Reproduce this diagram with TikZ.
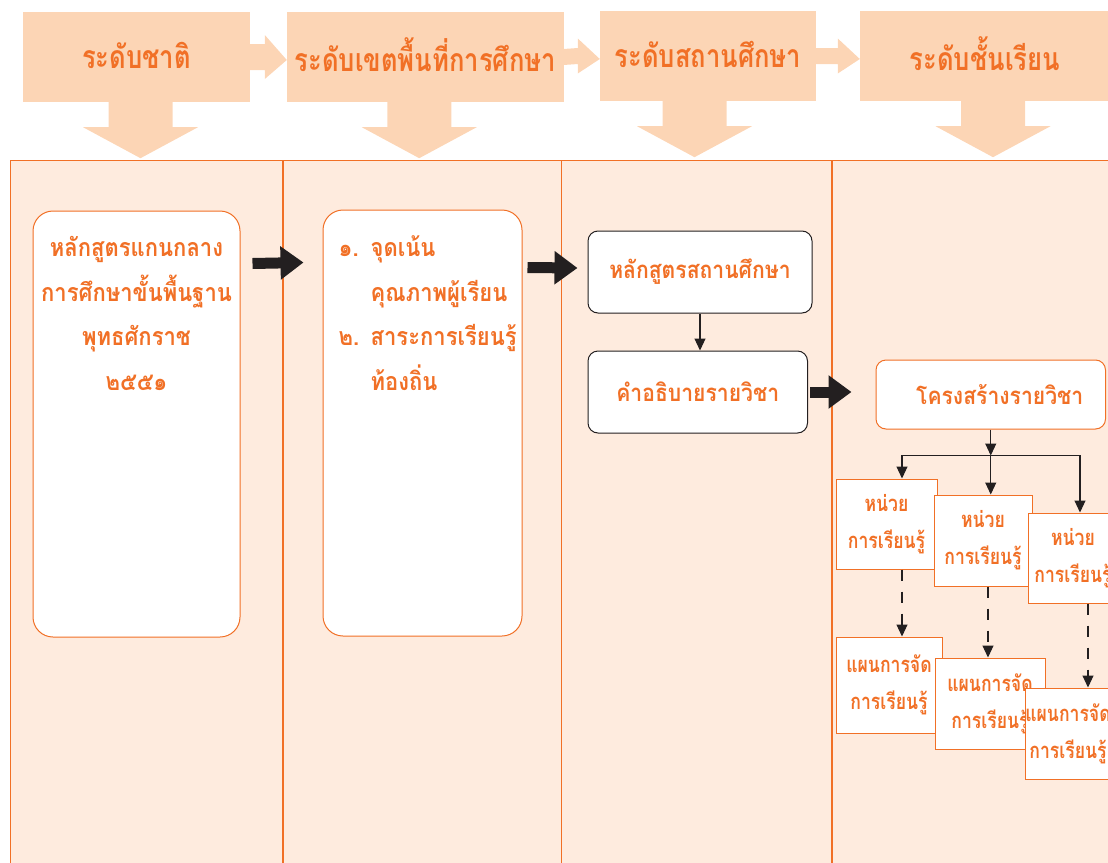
\documentclass[tikz,border=0pt]{standalone}
\usepackage{fontspec}
\newfontfamily\thaihead[Script=Thai,FakeStretch=0.8]{Loma}
\newfontfamily\thaifont[Script=Thai,FakeStretch=0.88]{Loma}
\newfontfamily\thainarrow[Script=Thai,FakeStretch=0.8]{Loma}
\usetikzlibrary{arrows.meta,positioning,calc}
\tikzset{>=Triangle}
\definecolor{headfill}{RGB}{252,213,181}
\definecolor{lanefill}{RGB}{254,235,222}
\definecolor{myorange}{RGB}{241,112,38}
\definecolor{myblack}{RGB}{35,31,32}

\begin{document}
\begin{tikzpicture}[x=1pt, y=1pt, % 1 unidade = 1 pixel, y para baixo negativo
                    line join=miter,
                    head/.style={fill=headfill, minimum height=90, inner sep=0pt, text=myorange,
                                 font=\thaihead\bfseries\fontsize{32}{36}\selectfont},
                    lane/.style={draw=myorange, fill=lanefill, line width=1.2pt},
                    laneline/.style={draw=myorange, line width=1.2pt},
                    bigbox/.style={draw=myorange, fill=white, rounded corners=20, line width=1pt, inner sep=0pt},
                    roundbox/.style={draw=myblack, fill=white, rounded corners=10, line width=1pt, text=myorange,
                                     font=\thaifont\bfseries\fontsize{24}{26}\selectfont},
                    orangebox/.style={roundbox, draw=myorange},
                    smallbox/.style={draw=myorange, fill=white, line width=1pt, inner sep=0pt, align=center,
                                     text=myorange, font=\thainarrow\bfseries\fontsize{22}{37}\selectfont},
                    bodytext/.style={text=myorange, inner sep=0pt, font=\thaifont\bfseries\fontsize{25}{44.5}\selectfont},
                    fatarrow/.style={myblack, line width=11pt, -{Triangle[length=23pt,width=32pt]}},
                    thinarrow/.style={myblack, line width=1.1pt, -{Triangle[length=12pt,width=11pt]}},
                    dasharrow/.style={thinarrow, dash pattern=on 11pt off 11pt}]
  \useasboundingbox (0,0) rectangle (1108,-862);
  \clip (0,0) rectangle (1108,-862);

% Cabeçalhos dos níveis
  \node[head, minimum width=227]   (nat)    at (136.5,-57) {\raisebox{4pt}{ระดับชาติ}};
  \node[head, minimum width=276.5] (area)   at (425.25,-57) {\raisebox{4pt}{ระดับเขตพื้นที่การศึกษา}};
  \node[head, minimum width=216]   (school) at (708,-56) {\raisebox{4pt}{ระดับสถานศึกษา}};
  \node[head, minimum width=250]   (class)  at (985,-56) {\raisebox{4pt}{ระดับชั้นเรียน}};

% Setas largas entre os cabeçalhos
  \foreach \a/\b/\s/\w in {nat/area/13/22, area/school/8/17.5, school/class/8/17.5}{
    \fill[headfill] ([yshift=\s]\a.east) -- ([shift={(-22,\s)}]\b.west) -- ([shift={(-22,\w)}]\b.west)
      -- ([yshift=-3]\b.west) -- ([shift={(-22,-\w)}]\b.west) -- ([shift={(-22,-\s)}]\b.west)
      -- ([yshift=-\s]\a.east) -- cycle;
  }

% Faixas (colunas) de fundo
  \draw[lane] (10.5,-160.5) rectangle (1130,-880);
  \foreach \x in {283,561.5,832}
    \draw[laneline] (\x,-160.5) -- (\x,-880);

% Setas para baixo dos cabeçalhos
  \foreach \h/\dx in {nat/4, area/-6, school/-13.5, class/8}{
    \fill[headfill] ([xshift=\dx]\h.south) ++(-32,1) -- ++(0,-26) -- ++(-25.5,0) -- ++(57.5,-31)
      -- ++(57.5,31) -- ++(-25.5,0) -- ++(0,26) -- cycle;
  }

% Nível nacional e de área
  \node[bigbox, minimum width=207, minimum height=426] (core)  at (136.5,-424) {};
  \node[bodytext, align=center, below=26pt of core.north] (coretext)
    {หลักสูตรแกนกลาง\\การศึกษาขั้นพื้นฐาน\\พุทธศักราช\\๒๕๕๑};
  \node[bigbox, minimum width=199, minimum height=426] (focus) at (422.5,-423) {};
  \node[bodytext, align=left, anchor=north west] (focustext) at ([shift={(16,-26)}]focus.north west)
    {\makebox[32pt][l]{๑.}จุดเน้น\\\hspace*{32pt}คุณภาพผู้เรียน\\
     \makebox[32pt][l]{๒.}สาระการเรียนรู้\\\hspace*{32pt}ท้องถิ่น};

% Nível da escola
  \node[roundbox, minimum width=224, minimum height=82]   (cur)    at (700,-272)     {หลักสูตรสถานศึกษา};
  \node[roundbox, minimum width=219.5, minimum height=82] (desc)   at (697.75,-392)  {คำอธิบายรายวิชา};
  \node[orangebox, minimum width=229.5, minimum height=69] (struct) at (990.75,-394.5) {\hspace*{18pt}โครงสร้างรายวิชา};

% Nível da sala: unidades e planos
  \node[smallbox, minimum width=101, minimum height=90] (unit1) at (886.5,-524)  {หน่วย\\การเรียนรู้};
  \node[smallbox, minimum width=98,  minimum height=91] (unit2) at (983,-540.5)  {หน่วย\\การเรียนรู้};
  \node[smallbox, minimum width=90,  minimum height=90] (unit3) at (1073,-558)   {หน่วย\\การเรียนรู้};
  \node[smallbox, minimum width=106, minimum height=96] (plan1) at (889,-685)    {แผนการจัด\\การเรียนรู้};
  \node[smallbox, minimum width=110, minimum height=91] (plan2) at (990,-703.5)  {แผนการจัด\\การเรียนรู้};
  \node[smallbox, minimum width=86,  minimum height=91] (plan3) at (1068,-733.5) {แผนการจัด\\การเรียนรู้};

% Setas pretas
  \draw[fatarrow] ([shift={(12,-53)}]core.north east) -- ([shift={(-19,-53)}]focus.north west);
  \draw[fatarrow] ([shift={(5,-58)}]focus.north east) -- ([shift={(-10,4)}]cur.west);
  \draw[fatarrow] ([xshift=2]desc.east) -- ([xshift=-24]desc.east -| struct.west);
  \draw[thinarrow] (cur.south) -- (cur.south |- desc.north);

  \coordinate (split) at ([yshift=-26]struct.south);
  \draw[thinarrow] (struct.south) -- (split);
  \draw[thinarrow] (split) -| ([xshift=15.5]unit1.north);
  \draw[thinarrow] (split) -- (split |- unit2.north);
  \draw[thinarrow] (split) -| ([xshift=7]unit3.north);

  \draw[dasharrow] ([xshift=15.5]unit1.south) -- ([xshift=15.5]unit1.south |- plan1.north);
  \draw[dasharrow] ([xshift=5]unit2.south)    -- ([xshift=5]unit2.south |- plan2.north);
  \draw[dasharrow] ([xshift=15]unit3.south)   -- ([xshift=15]unit3.south |- plan3.north);
\end{tikzpicture}
\end{document}
